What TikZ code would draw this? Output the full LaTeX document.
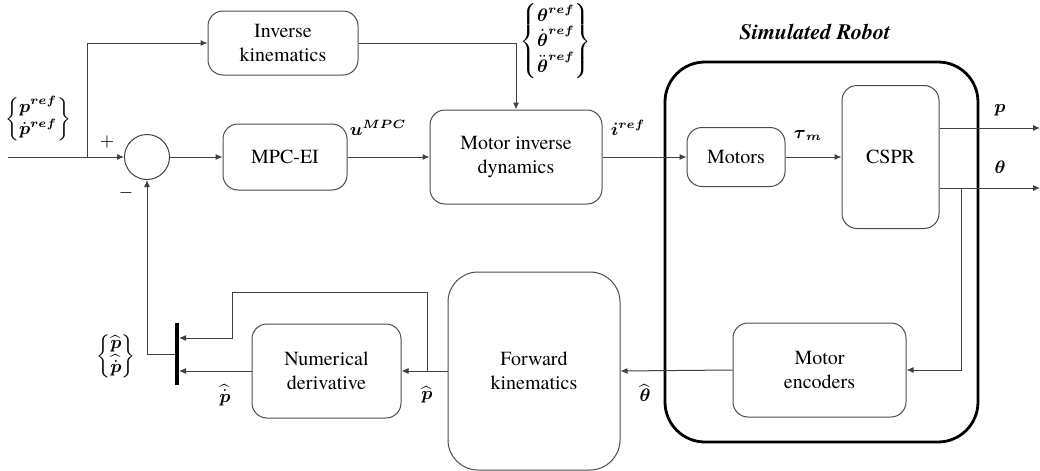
\documentclass[tikz,border=0pt]{standalone}
\usepackage{amsmath}
\usepackage{fontspec}
\setmainfont{texgyretermes}[Extension=.otf, UprightFont=*-regular, BoldFont=*-bold, ItalicFont=*-italic, BoldItalicFont=*-bolditalic]
\usetikzlibrary{arrows.meta,calc}
\tikzset{
  blk/.style={draw=black!70, line width=0.5pt, rounded corners=7.5pt, align=center, inner sep=0pt,
    font=\rmfamily\fontsize{10}{12}\selectfont},
  arr/.style={draw=black!75, line width=0.5pt, -{Latex[length=3.5pt,width=3pt]}},
  ln/.style={draw=black!75, line width=0.5pt},
  lbl/.style={inner sep=0pt, font=\fontsize{9}{11}\selectfont},
}
\begin{document}
\begin{tikzpicture}[x=0.5pt,y=-0.5pt]
\useasboundingbox (0,0) rectangle (1040,471);
% robot container
\node[draw=black, line width=1.4pt, rounded corners=20pt, minimum width=156.5pt, minimum height=190pt, inner sep=0pt] (robot) at (821.5,252) {};
\node[inner sep=0pt, font=\rmfamily\fontsize{11}{13}\selectfont\bfseries\itshape] (robtitle) at (815,32) {Simulated Robot};
% blocks
\node[blk, minimum width=75pt, minimum height=32pt] (ik) at (283,43) {Inverse\\kinematics};
\node[blk, minimum width=62pt, minimum height=33pt] (mpc) at (285,157) {MPC-EI};
\node[blk, minimum width=86pt, minimum height=47pt] (mid) at (516,157) {Motor inverse\\dynamics};
\node[blk, minimum width=49pt, minimum height=29.5pt] (motors) at (736,157) {Motors};
\node[blk, minimum width=48.5pt, minimum height=71.5pt] (cspr) at (890.5,157) {CSPR};
\node[blk, minimum width=86.5pt, minimum height=47pt] (enc) at (819.5,370) {Motor\\encoders};
\node[blk, rounded corners=15pt, minimum width=86pt, minimum height=99pt] (fk) at (534,371) {Forward\\kinematics};
\node[blk, minimum width=74.5pt, minimum height=47pt] (nd) at (326.5,371) {Numerical\\derivative};
\node[draw=black!75, line width=0.5pt, circle, minimum size=22.5pt, inner sep=0pt] (sum) at (147,157) {};
\node[fill=black, minimum width=1.6pt, minimum height=31pt, inner sep=0pt] (bar) at (177,354) {};
% coordinates
\coordinate (in) at (8,157);
\coordinate (br) at (87,157);
\coordinate (pout) at (1040,128);
\coordinate (thout) at (1040,188);
\coordinate (thbr) at (961,188);
\coordinate (pbr) at (427,371);
% connectors
\draw[ln] (in) -- (br);
\draw[arr] (br) -- (sum.west);
\draw[arr] (br) |- (ik.west);
\draw[arr] (ik.east) -| (mid.north);
\draw[arr] (sum.east) -- (mpc.west);
\draw[arr] (mpc.east) -- (mid.west);
\draw[arr] (mid.east) -- (motors.west);
\draw[arr] (motors.east) -- (cspr.west);
\draw[arr] (cspr.east |- pout) -- (pout);
\draw[arr] (cspr.east |- thout) -- (thout);
\draw[arr] (thbr) |- (enc.east);
\draw[arr] (enc.west) -- (fk.east);
\draw[arr] (fk.west) -- (nd.east);
\draw[arr] (nd.west) -- (bar.east |- nd.west);
\draw[arr] (pbr) -- (427,292) -| (232,338) -- (bar.east |- 232,338);
\draw[arr] (bar.west) -| (sum.south);
% labels
\node[lbl] (lpref) at (38,119) {$\begin{Bmatrix}\boldsymbol{p}^{\boldsymbol{ref}}\\ \dot{\boldsymbol{p}}^{\boldsymbol{ref}}\end{Bmatrix}$};
\node[lbl] (lplus) at (107,142) {$+$};
\node[lbl] (lminus) at (126,193) {$-$};
\node[lbl] (lu) at (378,128) {$\boldsymbol{u}^{\boldsymbol{MPC}}$};
\node[lbl, anchor=north] (lth) at (556,3) {\renewcommand{\arraystretch}{0.8}$\begin{Bmatrix}\boldsymbol{\theta}^{\boldsymbol{ref}}\\ \dot{\boldsymbol{\theta}}^{\boldsymbol{ref}}\\ \ddot{\boldsymbol{\theta}}^{\boldsymbol{ref}}\end{Bmatrix}$};
\node[lbl] (li) at (628,128) {$\boldsymbol{i}^{\boldsymbol{ref}}$};
\node[lbl] (ltau) at (808,135) {$\boldsymbol{\tau}_{\boldsymbol{m}}$};
\node[lbl] (lp) at (1000,110) {$\boldsymbol{p}$};
\node[lbl] (ltheta) at (1000,167) {$\boldsymbol{\theta}$};
\node[lbl] (lthhat) at (645,393) {$\widehat{\boldsymbol{\theta}}$};
\node[lbl] (lphat) at (427,395) {$\widehat{\boldsymbol{p}}$};
\node[lbl] (lpdhat) at (225,395) {$\widehat{\dot{\boldsymbol{p}}}$};
\node[lbl] (lfb) at (116,356) {$\begin{Bmatrix}\widehat{\boldsymbol{p}}\\ \widehat{\dot{\boldsymbol{p}}}\end{Bmatrix}$};
\end{tikzpicture}
\end{document}
